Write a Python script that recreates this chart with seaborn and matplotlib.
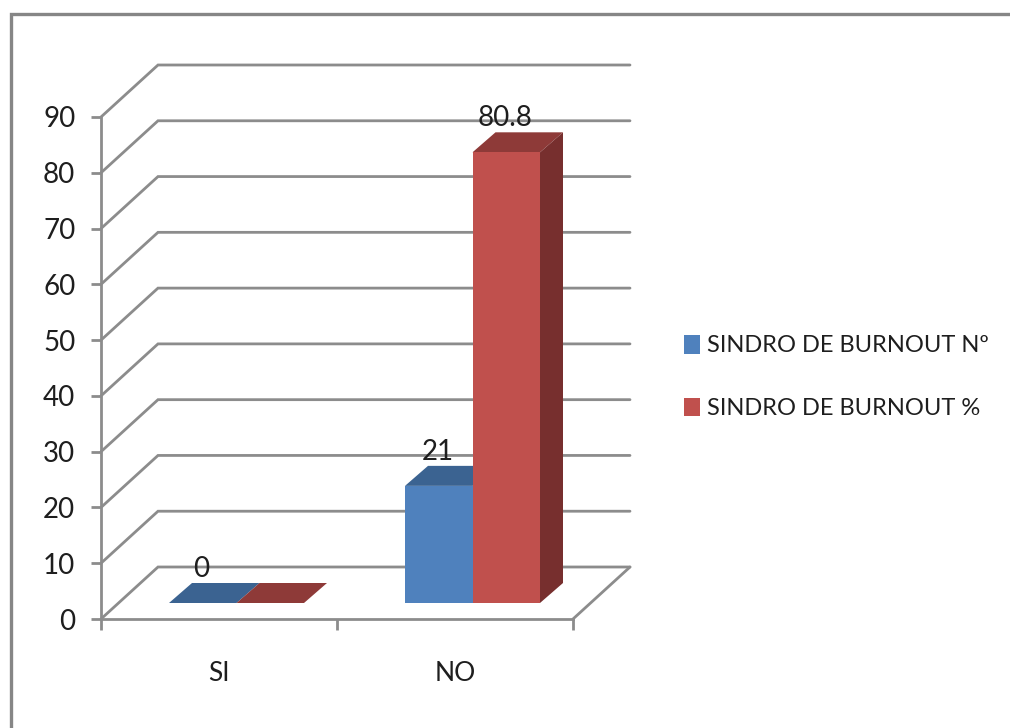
import matplotlib
matplotlib.use("Agg")
import matplotlib.pyplot as plt
import matplotlib.patches as mpatches
from matplotlib.lines import Line2D
import pandas as pd
import seaborn as sns

categories = ["SI", "NO"]
series_names = ["SINDRO DE BURNOUT Nº", "SINDRO DE BURNOUT %"]
count_values = [0, 21]
percent_values = [0, 80.8]
count_labels = ["0", "21"]
percent_labels = ["", "80.8"]
y_ticks = list(range(0, 100, 10))

FRONT = ["#4F81BD", "#C0504D"]
TOP = ["#3B6391", "#8E3A38"]
SIDE = ["#345679", "#772F2E"]
LINE = "#8C8C8C"
TEXT = "#1E1E1E"

W, H = 1010, 728
sns.set_theme(style="white")
plt.rcParams["font.family"] = ["Lato", "DejaVu Sans"]


def pixel_axes(fig, left, top, right, bottom):
    return fig.add_axes([left / W, 1 - bottom / H, (right - left) / W, (bottom - top) / H])


fig = plt.figure(figsize=(W / 100, H / 100), dpi=100, facecolor="white")

# Outer frame of the chart area, open towards the right and bottom edges
fig.add_artist(Line2D([11 / W, 11 / W, 1], [0, 1 - 14 / H, 1 - 14 / H],
                      color="#868686", lw=2.4, solid_joinstyle="miter"))

# Front plane: carries the axes, the ticks and the receding gridlines
ax = pixel_axes(fig, 101, 117, 573, 619)
ax.set_xlim(-0.5, 1.5)
ax.set_ylim(0, 90)
ax.patch.set_visible(False)
px_x = 2.0 / 472
px_y = 90 / 502
wall_dx, wall_dy = 57 * px_x, 52 * px_y

for v in y_ticks:
    ax.plot([-0.5, -0.5 + wall_dx, 1.5 + wall_dx],
            [v, v + wall_dy, v + wall_dy],
            color=LINE, lw=2.0, clip_on=False, zorder=1, solid_joinstyle="miter")
ax.plot([1.5, 1.5 + wall_dx], [0, wall_dy], color=LINE, lw=2.0, clip_on=False, zorder=1)

for side in ("top", "right"):
    ax.spines[side].set_visible(False)
for side in ("left", "bottom"):
    ax.spines[side].set_color(LINE)
    ax.spines[side].set_linewidth(2.0)

ax.set_yticks(y_ticks)
ax.set_xticks([-0.5, 0.5, 1.5])
ax.set_xticklabels([])
ax.set_xticks([0, 1], labels=categories, minor=True)
ax.tick_params(axis="y", length=7.5, width=2.0, color=LINE, labelsize=20,
               labelcolor=TEXT, pad=11, left=True)
ax.tick_params(axis="x", which="major", length=8, width=2.0, color=LINE, bottom=True)
ax.tick_params(axis="x", which="minor", length=0, labelsize=19, labelcolor=TEXT, pad=30)

# Bars sit on the floor, lifted and shifted from the front plane
bars_ax = pixel_axes(fig, 101 + 17.5, 117 - 16, 573 + 17.5, 619 - 16)
table = pd.DataFrame({
    "category": categories * 2,
    "series": [series_names[0]] * 2 + [series_names[1]] * 2,
    "value": count_values + percent_values,
})
sns.barplot(data=table, x="category", y="value", hue="series", order=categories,
            hue_order=series_names, palette=FRONT, saturation=1, width=0.572, gap=0,
            ax=bars_ax, legend=False, linewidth=0, zorder=3)
bars_ax.set_xlim(-0.5, 1.5)
bars_ax.set_ylim(0, 90)
bars_ax.axis("off")

depth_dx, depth_dy = 23 * px_x, 20 * px_y
label_sets = [count_labels, percent_labels]
for s, container in enumerate(bars_ax.containers):
    for c, bar in enumerate(container):
        x0, x1 = bar.get_x(), bar.get_x() + bar.get_width()
        h = bar.get_height()
        bars_ax.add_patch(mpatches.Polygon(
            [(x0, h), (x1, h), (x1 + depth_dx, h + depth_dy), (x0 + depth_dx, h + depth_dy)],
            closed=True, fc=TOP[s], ec="none", clip_on=False, zorder=2))
        bars_ax.add_patch(mpatches.Polygon(
            [(x1, 0), (x1 + depth_dx, depth_dy), (x1 + depth_dx, h + depth_dy), (x1, h)],
            closed=True, fc=SIDE[s], ec="none", clip_on=False, zorder=2))
        if label_sets[s][c]:
            bars_ax.annotate(label_sets[s][c], (x0 + (x1 - x0) / 2, h), xytext=(-1, 24.5),
                             textcoords="offset points", ha="center", va="center",
                             fontsize=20, color=TEXT, annotation_clip=False, zorder=5)

legend_handles = [mpatches.Patch(fc=FRONT[i], ec="none", label=series_names[i]) for i in range(2)]
fig.legend(handles=legend_handles, loc="center left", bbox_to_anchor=(684 / W, 1 - 377 / H),
           frameon=False, fontsize=17, labelcolor=TEXT, handlelength=0.68, handleheight=0.85,
           handletextpad=0.3, labelspacing=1.75, borderpad=0, borderaxespad=0)

fig.savefig("out.png", dpi=100)
